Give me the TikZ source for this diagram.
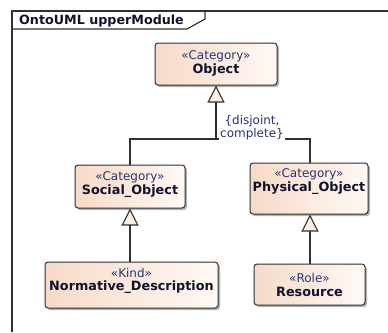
\documentclass[tikz,border=0pt]{standalone}
\usepackage{fontspec}
\setmainfont{DejaVu Sans}
\usetikzlibrary{arrows.meta,shadows,calc}
\definecolor{ln}{RGB}{48,48,48}
\definecolor{peach}{RGB}{247,218,200}
\definecolor{peachr}{RGB}{255,249,245}
\definecolor{tri}{RGB}{250,238,226}
\definecolor{stc}{RGB}{40,52,110}
\definecolor{nmc}{RGB}{18,18,45}
\newcommand{\stfont}{\fontsize{12}{13.5}\selectfont\color{stc}}
\newcommand{\nmfont}{\fontsize{12.8}{13.5}\selectfont\bfseries\color{nmc}}
\tikzset{
  umlbox/.style={draw=ln, line width=1pt, rounded corners=3pt, left color=peach, right color=peachr,
    general shadow={shadow xshift=2pt, shadow yshift=-2pt, fill=black!30}, inner sep=0pt},
  boxtext/.style={align=center, inner sep=0pt, font=\stfont},
  conn/.style={draw=ln, line width=1.1pt},
  gen/.style={conn, -{Triangle[length=17pt, width=17pt, fill=tri, line width=1.1pt]}},
  frm/.style={draw=ln, line width=1.2pt}
}
\begin{document}
\begin{tikzpicture}[x=1pt,y=-1pt]
\useasboundingbox (0,0) rectangle (388,332);
% frame
\draw[frm] (388,11) -- (12,11) -- (12,332);
\draw[frm] (12,29) -- (187,29) -- (205,19) -- (205,11);
\node[anchor=west, inner sep=0pt, font=\fontsize{12.7}{13}\selectfont\bfseries\color{nmc}] (title) at (19,20.5) {OntoUML upperModule};
% boxes
\node[umlbox, minimum width=122pt, minimum height=42pt] (obj) at (216,64) {};
\node[boxtext] (objt) at (216,63.5) {«Category»\\{\nmfont Object}};
\node[umlbox, minimum width=110pt, minimum height=43pt] (soc) at (130,186.5) {};
\node[boxtext] (soct) at (130,184.5) {«Category»\\{\nmfont Social\_Object}};
\node[umlbox, minimum width=118pt, minimum height=51pt] (phy) at (309,188.5) {};
\node[boxtext] (phyt) at (309,181.5) {«Category»\\{\nmfont Physical\_Object}};
\node[umlbox, minimum width=173pt, minimum height=46pt] (nor) at (131.5,285) {};
\node[boxtext] (nort) at (131.5,281) {«Kind»\\{\nmfont Normative\_Description}};
\node[umlbox, minimum width=111pt, minimum height=41pt] (res) at (309.5,284.5) {};
\node[boxtext] (rest) at (309.5,285) {«Role»\\{\nmfont Resource}};
% generalization set
\coordinate (j) at (obj.south |- 0,139);
\draw[conn] (phy.north -| 310,0) |- (j);
\draw[gen] (soc.north) |- (j) -- (obj.south);
\node[fill=white, inner sep=1pt, align=center, font=\fontsize{12}{13}\selectfont\color{stc}] (gs) at (252,127.5) {\{disjoint,\\complete\}};
% other generalizations
\draw[gen] (nor.north -| soc.south) -- (soc.south);
\draw[gen] (res.north -| 310,0) -- (phy.south -| 310,0);
\end{tikzpicture}
\end{document}
